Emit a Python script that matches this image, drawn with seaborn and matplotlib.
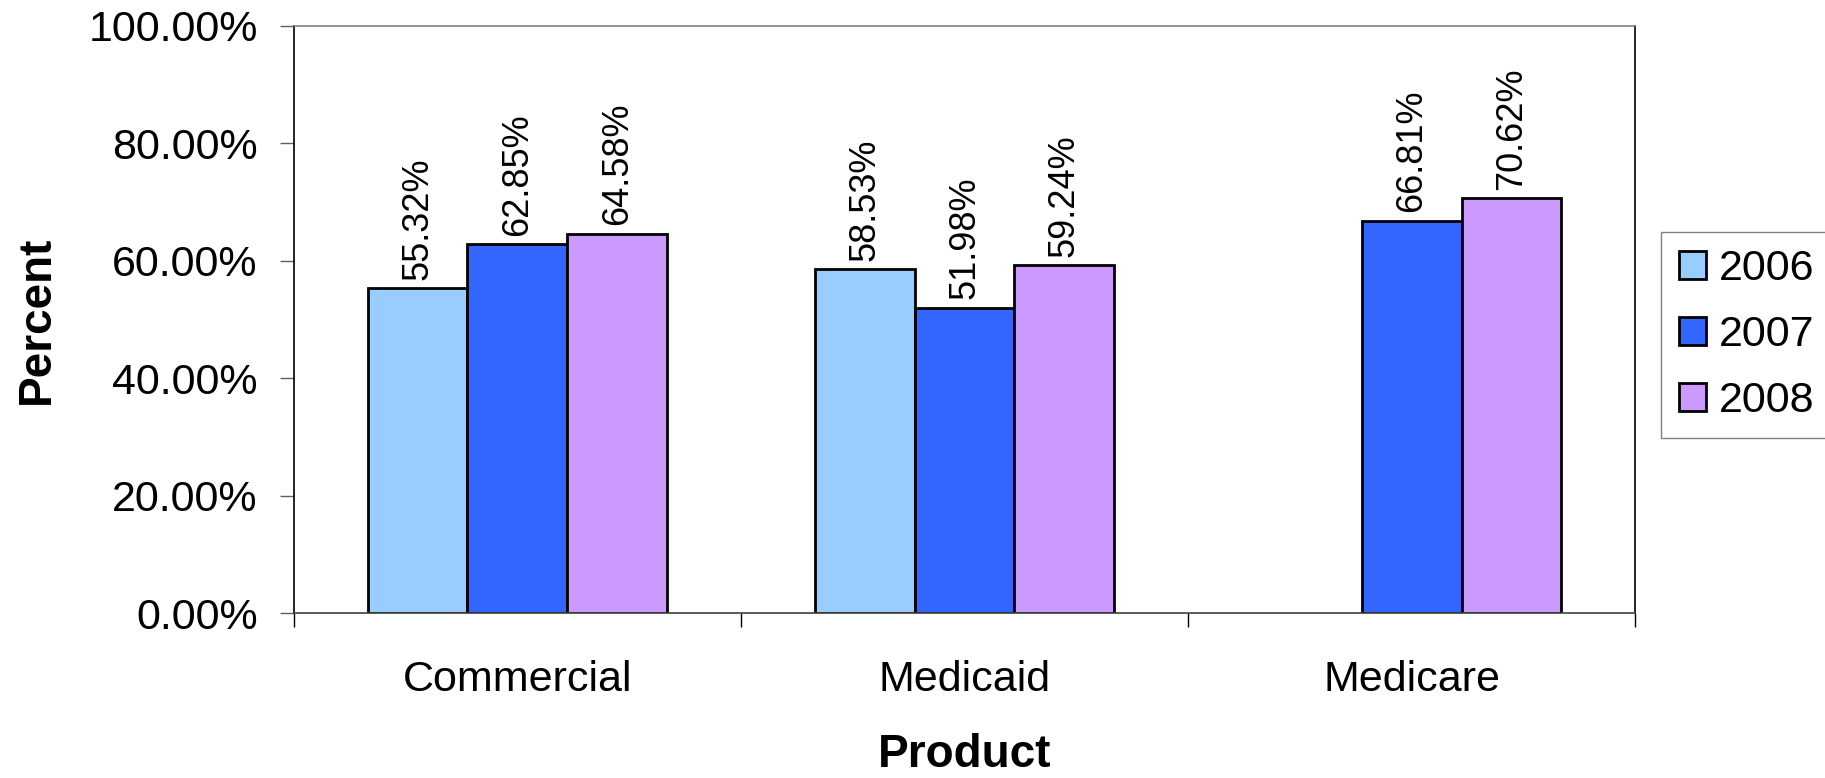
import numpy as np
import pandas as pd
import matplotlib
matplotlib.use("Agg")
import matplotlib.pyplot as plt
from matplotlib.ticker import FixedLocator, StrMethodFormatter
import seaborn as sns

# Data
products = ["Commercial", "Medicaid", "Medicare"]
years = ["2006", "2007", "2008"]
pct_2006 = [55.32, 58.53, np.nan]
pct_2007 = [62.85, 51.98, 66.81]
pct_2008 = [64.58, 59.24, 70.62]
colors = ["#99CCFF", "#3366FF", "#CC99FF"]

df = pd.DataFrame({
    "Product": products * 3,
    "Year": [y for y in years for _ in products],
    "Percent": pct_2006 + pct_2007 + pct_2008,
})

sns.set_style("white")
plt.rcParams["font.family"] = ["Liberation Sans", "DejaVu Sans"]
plt.rcParams["text.color"] = "black"
plt.rcParams["axes.labelcolor"] = "black"

fig = plt.figure(figsize=(18.25, 7.78), dpi=100)
ax = fig.add_axes([0.161, 0.212, 0.735, 0.755])

sns.barplot(data=df, x="Product", y="Percent", hue="Year", order=products,
            hue_order=years, palette=colors, width=0.67, edgecolor="black",
            linewidth=2, saturation=1, ax=ax, legend=True)

# value labels, rotated
for c in ax.containers:
    labels = ["" if np.isnan(v) else f"{v:.2f}%" for v in c.datavalues]
    ax.bar_label(c, labels=labels, rotation=90, padding=6, fontsize=26, color="black")

ax.set_ylim(0, 100)
ax.set_xlim(-0.5, 2.5)
ax.yaxis.set_major_locator(FixedLocator([0, 20, 40, 60, 80, 100]))
ax.yaxis.set_major_formatter(StrMethodFormatter("{x:.2f}%"))
ax.tick_params(axis="y", left=True, length=10, width=1, pad=16, labelsize=31,
               color="#606060", labelcolor="black")
ax.set_xticks(range(len(products)))
ax.set_xticks([-0.5, 0.5, 1.5, 2.5], minor=True)
ax.tick_params(axis="x", which="major", bottom=True, length=0, pad=34, labelsize=31,
               labelcolor="black")
ax.tick_params(axis="x", which="minor", bottom=True, length=10, width=1, color="black")

ax.set_xlabel("Product", fontsize=33, fontweight="bold")
ax.set_ylabel("Percent", fontsize=33, fontweight="bold")
ax.xaxis.set_label_coords(0.5, -0.204)
ax.yaxis.set_label_coords(-0.175, 0.5)

for side, col in [("left", "black"), ("right", "black"), ("top", "#808080"), ("bottom", "#404040")]:
    ax.spines[side].set_visible(True)
    ax.spines[side].set_color(col)
    ax.spines[side].set_linewidth(1.2)

handles, labels = ax.get_legend_handles_labels()
ax.legend(handles, labels, loc="center left", bbox_to_anchor=(0.8986, 0.569),
          bbox_transform=fig.transFigure, fontsize=31, frameon=True, fancybox=False,
          edgecolor="#808080", framealpha=1, handlelength=0.63, handleheight=0.63,
          handletextpad=0.3, labelspacing=0.6, borderpad=0.4)

fig.savefig("out.png", dpi=100)
